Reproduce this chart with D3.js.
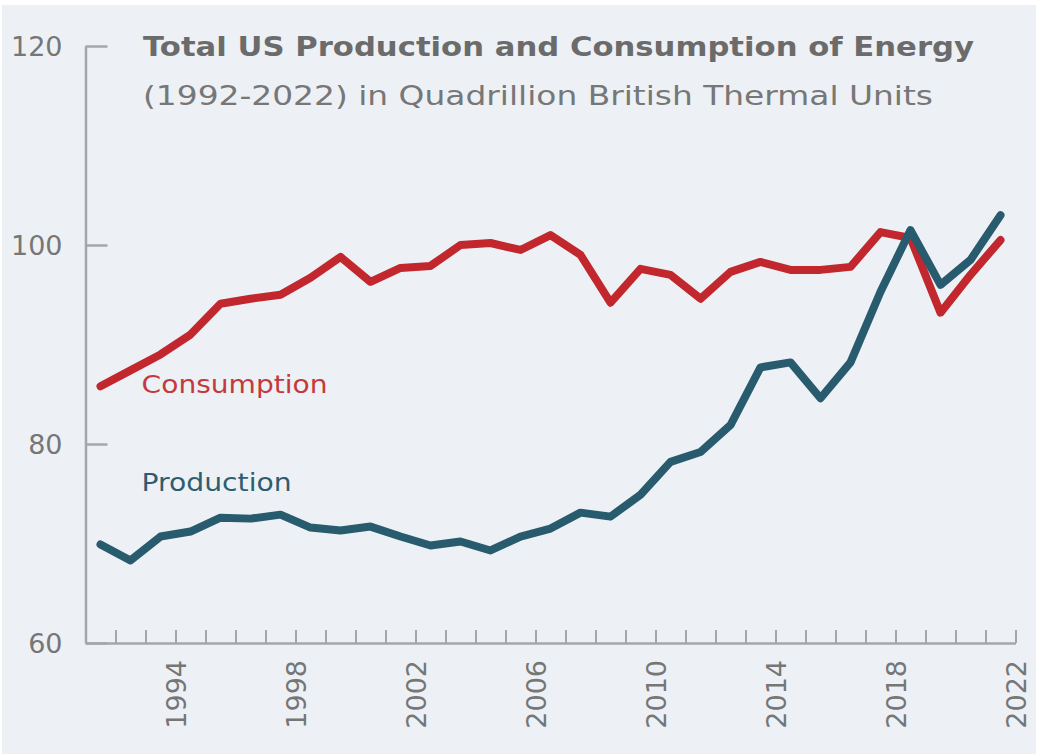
<!DOCTYPE html>
<html>
<head>
<meta charset="utf-8">
<script src="https://cdn.jsdelivr.net/npm/d3@7"></script>
<style>
  html, body { margin: 0; padding: 0; background: #ffffff; }
  svg { display: block; }
  text { font-family: "DejaVu Sans", sans-serif; }
</style>
</head>
<body>
<svg id="chart" width="1040" height="754"></svg>
<script>
const years = [1992, 1993, 1994, 1995, 1996, 1997, 1998, 1999, 2000, 2001,
               2002, 2003, 2004, 2005, 2006, 2007, 2008, 2009, 2010, 2011,
               2012, 2013, 2014, 2015, 2016, 2017, 2018, 2019, 2020, 2021, 2022];
const consumption = [85.8, 87.4, 89.0, 91.0, 94.1, 94.6, 95.0, 96.7, 98.8, 96.3,
                     97.7, 97.9, 100.0, 100.2, 99.5, 101.0, 99.0, 94.2, 97.6, 97.0,
                     94.6, 97.3, 98.3, 97.5, 97.5, 97.8, 101.3, 100.7, 93.2, 97.0, 100.5];
const production = [69.9, 68.3, 70.7, 71.2, 72.6, 72.5, 72.9, 71.6, 71.3, 71.7,
                    70.7, 69.8, 70.2, 69.3, 70.7, 71.5, 73.1, 72.7, 74.9, 78.2,
                    79.2, 81.9, 87.7, 88.2, 84.6, 88.2, 95.3, 101.5, 96.0, 98.5, 103.0];
const yTicks = [60, 80, 100, 120];
const xLabelYears = [1994, 1998, 2002, 2006, 2010, 2014, 2018, 2022];
const titleText = "Total US Production and Consumption of Energy";
const subtitleText = "(1992-2022) in Quadrillion British Thermal Units";
const seriesLabels = ["Consumption", "Production"];

const svg = d3.select("#chart");
svg.append("rect").attr("x", 2).attr("y", 5).attr("width", 1034).attr("height", 749)
  .attr("fill", "#edf1f5");

const x = d3.scaleLinear().domain([1991.5, 2022.5]).range([85.5, 1015.5]);
const y = d3.scaleLinear().domain([60, 120]).range([643, 46]);

const axisColor = "#a3a7ab";
const textColor = "#767676";

// Y axis
const yAxis = svg.append("g").attr("transform", `translate(${x(1991.5)},0)`)
  .call(d3.axisLeft(y).tickValues(yTicks).tickSizeInner(-22).tickSizeOuter(0).tickPadding(23));
yAxis.select(".domain").attr("stroke", axisColor).attr("stroke-width", 2.5);
yAxis.selectAll(".tick line").attr("stroke", axisColor).attr("stroke-width", 2.5);
yAxis.selectAll(".tick text").attr("fill", textColor).attr("font-size", 27)
  .attr("font-family", "DejaVu Sans").attr("dy", "0.36em");

// X axis: ticks at year boundaries, labels every 4 years
const tickPos = years.map(d => d + 0.5);
const xAxis = svg.append("g").attr("transform", `translate(0,${y(60)})`)
  .call(d3.axisBottom(x).tickValues(tickPos).tickSizeInner(-13).tickSizeOuter(0)
    .tickFormat(d => xLabelYears.includes(d - 0.5) ? String(d - 0.5) : ""));
xAxis.select(".domain").attr("stroke", axisColor).attr("stroke-width", 2.5);
xAxis.selectAll(".tick line").attr("stroke", axisColor).attr("stroke-width", 2);
xAxis.selectAll(".tick text").attr("fill", textColor).attr("font-size", 27)
  .attr("font-family", "DejaVu Sans")
  .attr("transform", "rotate(-90)").attr("text-anchor", "end")
  .attr("x", -17).attr("y", 0).attr("dy", "0.36em");

// Lines
const line = d3.line().x(d => x(d[0])).y(d => y(d[1]));
const colors = { consumption: "#c1272d", production: "#275b6d" };
svg.append("path").datum(years.map((yr, i) => [yr, consumption[i]]))
  .attr("d", line).attr("fill", "none").attr("stroke", colors.consumption)
  .attr("stroke-width", 8).attr("stroke-linejoin", "round").attr("stroke-linecap", "round");
svg.append("path").datum(years.map((yr, i) => [yr, production[i]]))
  .attr("d", line).attr("fill", "none").attr("stroke", colors.production)
  .attr("stroke-width", 8).attr("stroke-linejoin", "round").attr("stroke-linecap", "round");

// Series labels
svg.append("text").attr("x", x(1993.37)).attr("y", y(85.1))
  .attr("font-size", 24).attr("fill", "#c43a3c").attr("textLength", 186)
  .attr("lengthAdjust", "spacingAndGlyphs").text(seriesLabels[0]);
svg.append("text").attr("x", x(1993.37)).attr("y", y(75.3))
  .attr("font-size", 24).attr("fill", "#2e5d70").attr("textLength", 150)
  .attr("lengthAdjust", "spacingAndGlyphs").text(seriesLabels[1]);

// Title
svg.append("text").attr("x", 143).attr("y", 56)
  .attr("font-size", 26).attr("font-weight", "bold").attr("fill", "#6b6b6b")
  .attr("textLength", 831).attr("lengthAdjust", "spacingAndGlyphs").text(titleText);
svg.append("text").attr("x", 143).attr("y", 105)
  .attr("font-size", 26).attr("fill", "#777777")
  .attr("textLength", 790).attr("lengthAdjust", "spacingAndGlyphs").text(subtitleText);
</script>
</body>
</html>
